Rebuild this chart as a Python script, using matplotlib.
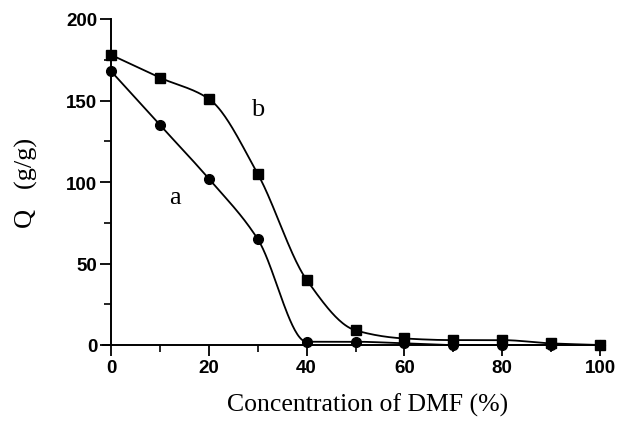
import numpy as np
import matplotlib
matplotlib.use("Agg")
import matplotlib.pyplot as plt
from matplotlib.ticker import MultipleLocator

dmf = [0, 10, 20, 30, 40, 50, 60, 70, 80, 90, 100]
q_a = [168, 135, 102, 65, 2, 2, 1, 0, 0, 0, 0]
q_b = [178, 164, 151, 105, 40, 9, 4, 3, 3, 1, 0]


def pchip(x, y, n=400):
    x = np.asarray(x, float); y = np.asarray(y, float)
    h = np.diff(x); d = np.diff(y) / h
    m = np.zeros_like(y)
    for k in range(1, len(x) - 1):
        if d[k - 1] * d[k] > 0:
            w1 = 2 * h[k] + h[k - 1]; w2 = h[k] + 2 * h[k - 1]
            m[k] = (w1 + w2) / (w1 / d[k - 1] + w2 / d[k])
    m[0] = d[0]; m[-1] = d[-1]
    xs = np.linspace(x[0], x[-1], n)
    idx = np.clip(np.searchsorted(x, xs) - 1, 0, len(x) - 2)
    t = (xs - x[idx]) / h[idx]
    h00 = 2 * t**3 - 3 * t**2 + 1; h10 = t**3 - 2 * t**2 + t
    h01 = -2 * t**3 + 3 * t**2; h11 = t**3 - t**2
    ys = h00 * y[idx] + h10 * h[idx] * m[idx] + h01 * y[idx + 1] + h11 * h[idx] * m[idx + 1]
    return xs, ys


fig = plt.figure(figsize=(6.18, 4.27), dpi=100)
ax = fig.add_axes([103 / 618, 81 / 427, 497 / 618, 326 / 427])

for q, mk, ms in [(q_a, 'o', 7), (q_b, 's', 6.5)]:
    xs, ys = pchip(dmf, q)
    ax.plot(xs, ys, color='black', lw=1.3, clip_on=False)
    ax.plot(dmf, q, linestyle='none', marker=mk, color='black', ms=ms, clip_on=False)

ax.set_xlim(-1.64, 100)
ax.set_ylim(0, 200)
for s in ['top', 'right']:
    ax.spines[s].set_visible(False)
ax.spines['left'].set_position(('data', 0))
for s in ['left', 'bottom']:
    ax.spines[s].set_linewidth(1.4)

ax.xaxis.set_major_locator(MultipleLocator(20))
ax.xaxis.set_minor_locator(MultipleLocator(10))
ax.yaxis.set_major_locator(MultipleLocator(50))
ax.yaxis.set_minor_locator(MultipleLocator(25))
ax.tick_params(which='major', direction='out', length=8, width=1.3, labelsize=13.5, pad=2)
ax.tick_params(which='minor', direction='out', length=5, width=1.2)
ax.tick_params(axis='y', pad=2)
for lab in ax.get_xticklabels() + ax.get_yticklabels():
    lab.set_fontfamily('Liberation Sans')
    lab.set_fontweight('bold')

ax.set_xlabel('Concentration of DMF (%)', fontfamily='Liberation Serif', fontsize=18.5)
ax.xaxis.set_label_coords((368 - 103) / 497, -(405 - 346) / 326)
ax.xaxis.label.set_va('center')
ax.set_ylabel('Q   (g/g)', fontfamily='Liberation Serif', fontsize=19, labelpad=20)

ax.text(13.1, 91, 'a', fontfamily='Liberation Serif', fontsize=19, ha='center', va='center')
ax.text(29.9, 145, 'b', fontfamily='Liberation Serif', fontsize=19, ha='center', va='center')

fig.savefig('out.png', dpi=100)
